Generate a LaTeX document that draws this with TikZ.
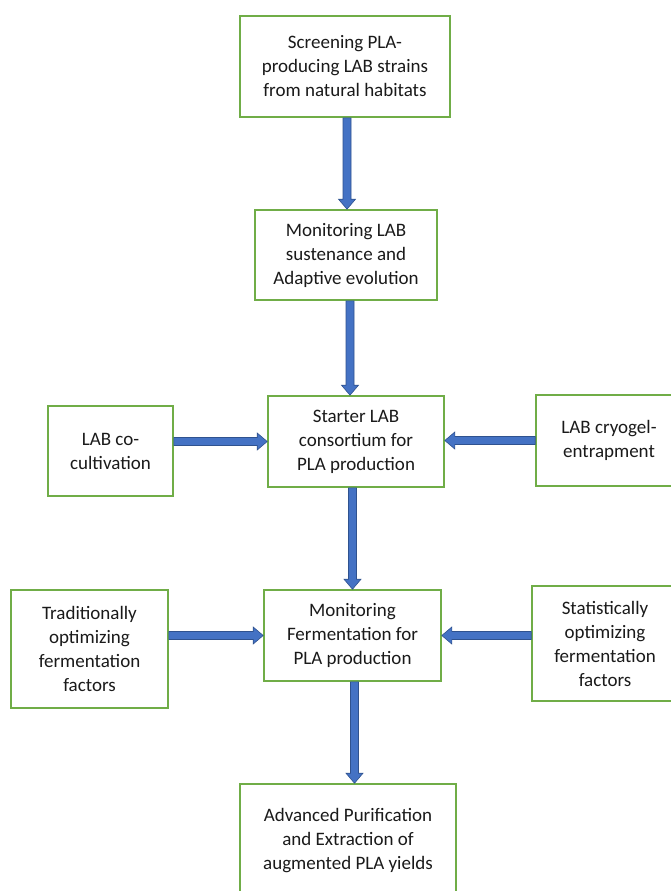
\documentclass[tikz,border=0pt]{standalone}
\usepackage{fontspec}
\setmainfont{Carlito}
\usetikzlibrary{calc}
\definecolor{bgreen}{HTML}{70AD47}
\definecolor{ablue}{HTML}{4472C4}
\definecolor{ablueedge}{HTML}{2F528F}
\definecolor{txt}{HTML}{1A1A1A}
\tikzset{
  box/.style={draw=bgreen, line width=1.6pt, fill=white, align=center, inner sep=0pt,
    text=txt, font=\fontsize{19}{24}\selectfont},
  fatarrowstyle/.style={fill=ablue, draw=ablueedge, line width=0.6pt, line join=miter}
}
\newcommand\fatarrow[2]{%
  \draw[fatarrowstyle] let \p1=(#1), \p2=(#2),
    \n1={atan2(\y2-\y1,\x2-\x1)}, \n2={veclen(\x2-\x1,\y2-\y1)-10pt} in
    ($(\p1)+(\n1+90:4pt)$) -- ($(\p1)+(\n1:\n2)+(\n1+90:4pt)$)
    -- ($(\p1)+(\n1:\n2)+(\n1+90:8.5pt)$) -- (\p2)
    -- ($(\p1)+(\n1:\n2)+(\n1-90:8.5pt)$) -- ($(\p1)+(\n1:\n2)+(\n1-90:4pt)$)
    -- ($(\p1)+(\n1-90:4pt)$) -- cycle;}
\begin{document}
\begin{tikzpicture}[x=1pt,y=-1pt]
\fill[white] (0,0) rectangle (670,891);
\useasboundingbox (0,0) rectangle (670,891);

\node[box, minimum width=210pt, minimum height=101pt] (b1) at (345,66.5)
  {Screening PLA-\\producing LAB strains\\from natural habitats};
\node[box, minimum width=182pt, minimum height=90pt] (b2) at (346,255)
  {Monitoring LAB\\sustenance and\\Adaptive evolution};
\node[box, minimum width=176pt, minimum height=91pt] (b3) at (356,441.5)
  {Starter LAB\\consortium for\\PLA production};
\node[box, minimum width=125pt, minimum height=90pt] (l1) at (110.5,451)
  {LAB co-\\cultivation};
\node[box, minimum width=146pt, minimum height=91pt] (r1) at (609,440.5)
  {LAB cryogel-\\entrapment};
\node[box, minimum width=177pt, minimum height=91pt] (b4) at (352.5,635.5)
  {Monitoring\\Fermentation for\\PLA production};
\node[box, minimum width=157pt, minimum height=118pt] (l2) at (89.5,649)
  {Traditionally\\optimizing\\fermentation\\factors};
\node[box, minimum width=146pt, minimum height=115pt] (r2) at (605,643.5)
  {Statistically\\optimizing\\fermentation\\factors};
\node[box, minimum width=216pt, minimum height=114pt] (b5) at (348,841)
  {Advanced Purification\\and Extraction of\\augmented PLA yields};

\coordinate (a1s) at ($(b1.south)+(2,0)$);
\coordinate (a2s) at ($(b2.south)+(4,0)$);
\coordinate (a4s) at ($(b4.south)+(2,0)$);

\fatarrow{a1s}{a1s |- b2.north}
\fatarrow{a2s}{a2s |- b3.north}
\fatarrow{b4.north |- b3.south}{b4.north}
\fatarrow{a4s}{a4s |- b5.north}
\fatarrow{l1.east |- b3.west}{b3.west}
\fatarrow{r1.west}{r1.west -| b3.east}
\fatarrow{l2.east |- b4.west}{b4.west}
\fatarrow{r2.west |- b4.east}{b4.east}
\end{tikzpicture}
\end{document}
